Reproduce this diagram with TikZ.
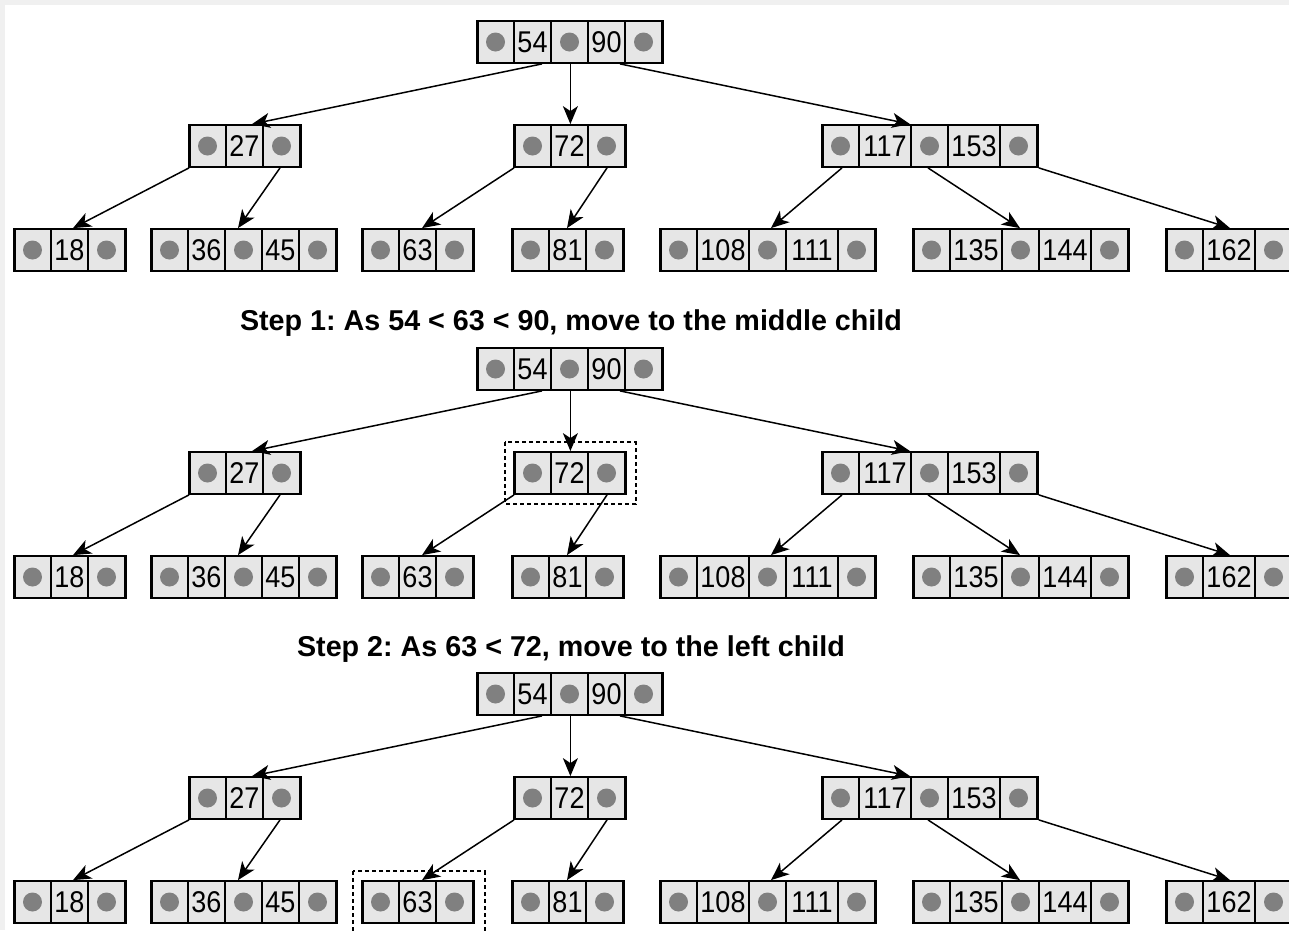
\documentclass[tikz,border=0pt]{standalone}
\usepackage{fontspec}
\setmainfont{Liberation Sans}
\newfontfamily\keyfont[FakeStretch=0.9]{Liberation Sans}
\usetikzlibrary{arrows.meta,calc}
\definecolor{cellfill}{HTML}{E6E6E6}
\definecolor{dotgray}{HTML}{808080}
\definecolor{pagegray}{HTML}{F0F0F0}
\frenchspacing
\tikzset{
  cellbox/.style={draw=black, line width=1.5pt, fill=cellfill},
  framebox/.style={draw=black, line width=1.8pt, minimum height=42, inner sep=0pt, anchor=west},
  ptrdot/.style={fill=dotgray},
  link/.style={line width=1.5pt, -{Stealth[length=18pt,width=15pt,inset=5pt]}},
  hilite/.style={draw=black, line width=1.8pt, dash pattern=on 4pt off 3pt},
  steptitle/.style={font=\fontsize{28.7}{32}\selectfont\bfseries},
  keytext/.style={font=\keyfont\fontsize{30}{32}\selectfont, inner sep=0pt}
}

% B-tree node: name, left x, centre y, list of key/cell-width
\newcommand\btnode[4]{%
  \xdef\bx{#2}%
  \foreach \k/\w in {#4}{%
    \path[cellbox] (\bx,#3-21) rectangle ++(37,42);
    \fill[ptrdot] (\bx+18.5,#3) circle (9.5);
    \path[cellbox] (\bx+37,#3-21) rectangle ++(\w,42);
    \node[keytext] at (\bx+37+\w/2,#3) {\k};
    \pgfmathsetmacro\nx{\bx+37+\w}\xdef\bx{\nx}%
  }%
  \path[cellbox] (\bx,#3-21) rectangle ++(37,42);
  \fill[ptrdot] (\bx+18.5,#3) circle (9.5);
  \pgfmathsetmacro\tw{\bx+37-#2}%
  \node[framebox, minimum width=\tw] (#1) at (#2,#3) {};
}

% Whole tree: name prefix, vertical offset
\newcommand\drawtree[2]{%
  \btnode{#1root}{477}{42+#2}{54/37,90/37}
  \btnode{#1n27}{189}{146+#2}{27/37}
  \btnode{#1n72}{514}{146+#2}{72/37}
  \btnode{#1n117}{822}{146+#2}{117/52,153/52}
  \btnode{#1n18}{14}{250+#2}{18/37}
  \btnode{#1n36}{151}{250+#2}{36/37,45/37}
  \btnode{#1n63}{362}{250+#2}{63/37}
  \btnode{#1n81}{512}{250+#2}{81/37}
  \btnode{#1n108}{660}{250+#2}{108/52,111/52}
  \btnode{#1n135}{913}{250+#2}{135/52,144/52}
  \btnode{#1n162}{1166}{250+#2}{162/52}
  \draw[link] ($(#1root.south west)+(65,0)$) -- ($(#1n27.north west)+(63,0)$);
  \draw[link] (#1root.south) -- (#1n72.north);
  \draw[link] ($(#1root.south west)+(143,0)$) -- ($(#1n117.north west)+(88,0)$);
  \draw[link] (#1n27.south west) -- ($(#1n18.north west)+(59,0)$);
  \draw[link] ($(#1n27.south west)+(91,0)$) -- ($(#1n36.north west)+(87,0)$);
  \draw[link] (#1n72.south west) -- ($(#1n63.north west)+(60,0)$);
  \draw[link] ($(#1n72.south west)+(93,0)$) -- ($(#1n81.north west)+(55,0)$);
  \draw[link] ($(#1n117.south west)+(20,0)$) -- ($(#1n108.north west)+(111,0)$);
  \draw[link] ($(#1n117.south west)+(106,0)$) -- ($(#1n135.north west)+(107,0)$);
  \draw[link] (#1n117.south east) -- ($(#1n162.north west)+(64,0)$);
}

\begin{document}
\begin{tikzpicture}[x=1pt,y=-1pt]
  \useasboundingbox (0,0) rectangle (1289,930);
  \fill[pagegray] (0,0) rectangle (1289,930);
  \fill[white] (5,5) rectangle (1289,930);

  \drawtree{a}{0}
  \node[steptitle] (title1) at (571,323) {Step 1: As 54 < 63 < 90, move to the middle child};
  \drawtree{b}{327}
  \draw[hilite] ($(bn72.north west)+(-9,-9)$) rectangle ($(bn72.south east)+(9,9)$);
  \node[steptitle] (title2) at (571,649) {Step 2: As 63 < 72, move to the left child};
  \drawtree{c}{652}
  \draw[hilite] ($(cn63.north west)+(-9,-9)$) rectangle ($(cn63.south east)+(10,9)$);
\end{tikzpicture}
\end{document}
